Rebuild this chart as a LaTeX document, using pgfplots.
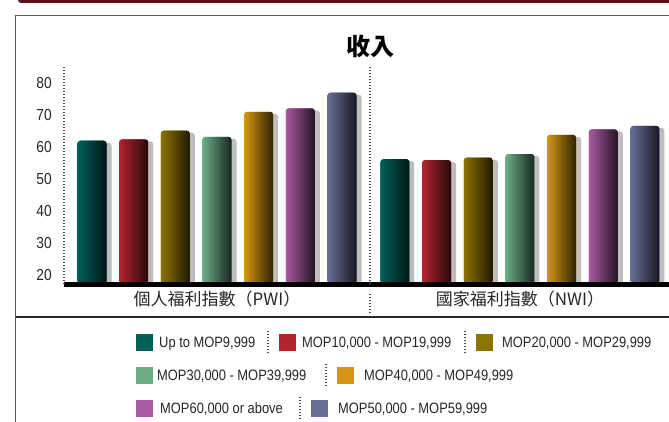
\documentclass[border=0pt]{standalone}
\usepackage{fontspec}
\setmainfont{Liberation Sans}[FakeStretch=0.86]
\newfontfamily\cjk{Noto Sans CJK TC}
\usepackage{pgfplots}
\pgfplotsset{compat=1.18}
\usetikzlibrary{shadows}
\definecolor{c1}{RGB}{0,96,90}
\definecolor{c2}{RGB}{178,36,46}
\definecolor{c3}{RGB}{140,116,0}
\definecolor{c4}{RGB}{108,174,136}
\definecolor{c5}{RGB}{212,150,16}
\definecolor{c6}{RGB}{168,90,160}
\definecolor{c7}{RGB}{104,110,150}
\definecolor{framered}{RGB}{92,16,24}
\pgfplotsset{
  mybar/.style 2 args={draw=none, fill=#1, left color=#1, middle color=#1, right color=#1!22!black,
    rounded corners=3pt, bar shift=#2,
    drop shadow={shadow xshift=5pt, shadow yshift=-2pt, opacity=0.15, fill=black}},
}
\begin{document}
\begin{tikzpicture}[x=1pt,y=1pt]
% frame
\fill[framered, rounded corners=3pt] (18,418) rectangle (720,440);
\draw[black!65, line width=1.5pt] (15.5,-10) -- (15.5,405.5) -- (720,405.5);
\draw[black!85, line width=1.8pt] (15.5,104) -- (720,104);
\node[font=\cjk\bfseries\fontsize{24}{26}\selectfont] at (370,375) {收入};
\begin{axis}[
  at={(64pt,137pt)}, anchor=south west, scale only axis,
  width=612pt, height=219pt,
  xmin=-0.5, xmax=1.5, ymin=17.1875, ymax=85.625,
  ybar, bar width=29pt,
  xtick={0,0.99},
  xticklabels={{個人福利指數（PWI）},{國家福利指數（NWI）}},
  ytick={20,30,...,80},
  major tick length=0pt,
  axis x line*=bottom, axis y line*=left,
  x axis line style={line width=5pt, black, -},
  y axis line style={line width=1.2pt, black!70, dash pattern=on 1pt off 2pt, -},
  extra x ticks={0.5}, extra x tick labels={},
  extra x tick style={grid=major, major grid style={black!70, line width=1.2pt, dash pattern=on 1pt off 2pt}},
  axis on top,
  /pgf/number format/assume math mode=true,
  yticklabel style={font=\fontsize{16}{18}\selectfont, anchor=east, inner sep=0pt, xshift=-12pt, text=black!85},
  xticklabel style={font=\cjk\fontsize{17}{19}\selectfont, anchor=center, yshift=-15pt, text=black!85},
]
% PWI (x=0) and NWI (x=0.99), one bar per plot so that each bar is shaded on its own
\addplot[mybar={c1}{-125pt}] coordinates {(0,62.0)};
\addplot[mybar={c1}{-125pt}] coordinates {(0.99,56.2)};
\addplot[mybar={c2}{-83.33pt}] coordinates {(0,62.4)};
\addplot[mybar={c2}{-83.33pt}] coordinates {(0.99,55.9)};
\addplot[mybar={c3}{-41.67pt}] coordinates {(0,65.1)};
\addplot[mybar={c3}{-41.67pt}] coordinates {(0.99,56.7)};
\addplot[mybar={c4}{0pt}] coordinates {(0,63.2)};
\addplot[mybar={c4}{0pt}] coordinates {(0.99,57.8)};
\addplot[mybar={c5}{41.67pt}] coordinates {(0,71.0)};
\addplot[mybar={c5}{41.67pt}] coordinates {(0.99,63.8)};
\addplot[mybar={c6}{83.33pt}] coordinates {(0,72.1)};
\addplot[mybar={c6}{83.33pt}] coordinates {(0.99,65.5)};
\addplot[mybar={c7}{125pt}] coordinates {(0,77.0)};
\addplot[mybar={c7}{125pt}] coordinates {(0.99,66.6)};
\end{axis}
\draw[black!70, line width=1.2pt, dash pattern=on 1pt off 2pt] (370,108) -- (370,129);
% legend
\begin{scope}[every node/.style={font=\fontsize{15}{17}\selectfont, text=black!85, anchor=base west, inner sep=0pt}]
\def\sep#1#2{\draw[black!70, line width=1.2pt, dash pattern=on 1pt off 2pt] (#1,#2-11) -- (#1,#2+11);}
% row 1
\fill[c1] (136,70.5) rectangle (153,87.5); \node at (159,73.5) {Up to MOP9,999};
\sep{268}{79}
\fill[c2] (279,70.5) rectangle (296,87.5); \node at (302,73.5) {MOP10,000 - MOP19,999};
\sep{465}{79}
\fill[c3] (476,70.5) rectangle (493,87.5); \node at (502,73.5) {MOP20,000 - MOP29,999};
% row 2
\fill[c4] (136,37.5) rectangle (153,54.5); \node at (157,40.5) {MOP30,000 - MOP39,999};
\sep{326}{46}
\fill[c5] (337,37.5) rectangle (354,54.5); \node at (364,40.5) {MOP40,000 - MOP49,999};
% row 3
\fill[c6] (136,4.5) rectangle (153,21.5); \node at (160,7.5) {MOP60,000 or above};
\sep{300}{13}
\fill[c7] (311,4.5) rectangle (328,21.5); \node at (338,7.5) {MOP50,000 - MOP59,999};
\end{scope}
\pgfresetboundingbox
\path[use as bounding box] (0,0) rectangle (669,421);
\end{tikzpicture}
\end{document}
